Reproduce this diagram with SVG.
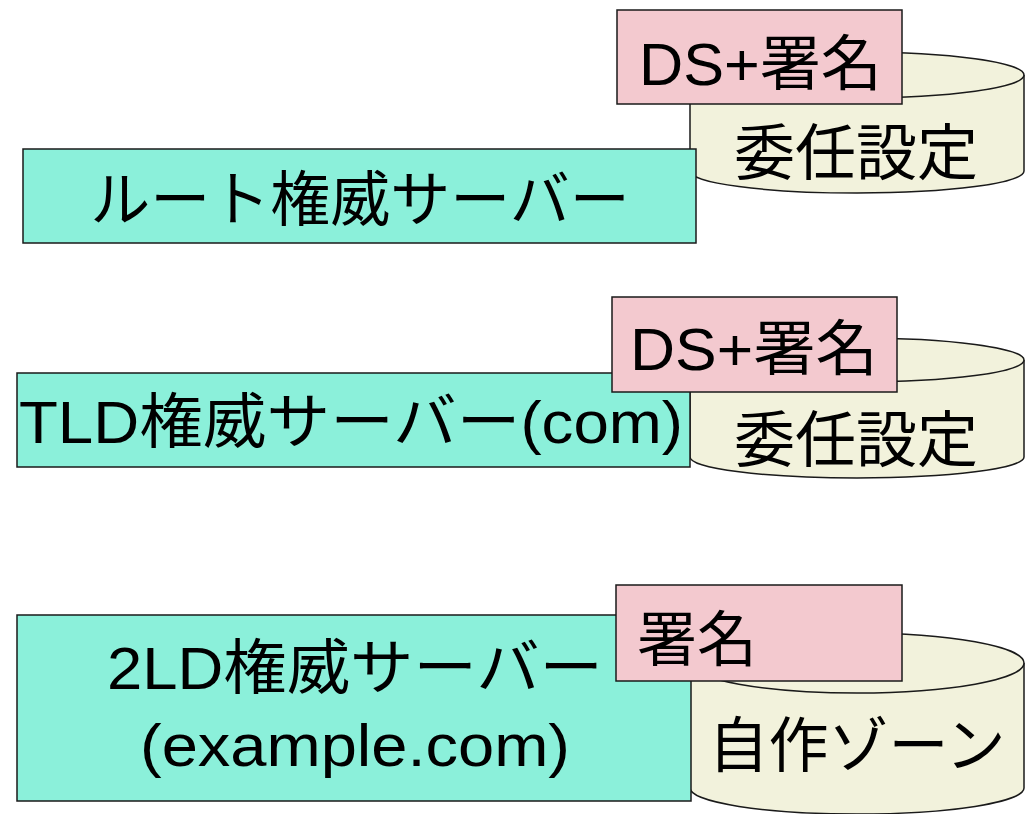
<svg xmlns="http://www.w3.org/2000/svg" width="1035" height="814" viewBox="0 0 1035 814">
<style>
.teal{fill:#8BF0DA;stroke:#1a1a1a;stroke-width:1.5}
.pink{fill:#F3C9CF;stroke:#1a1a1a;stroke-width:1.5}
.cyl{fill:#F2F2DC;stroke:#1a1a1a;stroke-width:1.5}
text{font-family:"Noto Sans CJK JP","Noto Sans",sans-serif;font-size:60px;fill:#000}
.lat{font-family:"Liberation Sans","Noto Sans CJK JP",sans-serif}
.c{text-anchor:middle}
.z{font-size:61px}
</style>
<rect width="1035" height="814" fill="#fff"/>
<g id="root-zone">
<path class="cyl" d="M690,75 L690,171 A167,22 0 0 0 1024,171 L1024,75 A167,23 0 0 0 690,75 Z"/>
<path class="cyl" d="M690,75 A167,23 0 0 0 1024,75" fill="none"/>
<text class="c z" x="856" y="175">委任設定</text>
</g>
<g id="root-server">
<rect class="teal" x="23" y="149" width="673" height="94"/>
<text class="c" x="360" y="221">ルート権威サーバー</text>
</g>
<g id="root-sig">
<rect class="pink" x="617" y="10" width="285" height="94"/>
<text class="lat" x="639" y="85" textLength="243" lengthAdjust="spacingAndGlyphs">DS+署名</text>
</g>
<g id="tld-zone">
<path class="cyl" d="M690,360 L690,457 A167,21 0 0 0 1024,457 L1024,360 A167,22 0 0 0 690,360 Z"/>
<path class="cyl" d="M690,360 A167,22 0 0 0 1024,360" fill="none"/>
<text class="c z" x="856" y="462">委任設定</text>
</g>
<g id="tld-server">
<rect class="teal" x="17" y="373" width="673" height="94"/>
<text class="c lat" x="351" y="443" textLength="664" lengthAdjust="spacingAndGlyphs">TLD権威サーバー(com)</text>
</g>
<g id="tld-sig">
<rect class="pink" x="612" y="297" width="285" height="95"/>
<text class="lat" x="630" y="370" textLength="248" lengthAdjust="spacingAndGlyphs">DS+署名</text>
</g>
<g id="sld-zone">
<path class="cyl" d="M690,663 L690,788 A167,26 0 0 0 1024,788 L1024,663 A167,30 0 0 0 690,663 Z"/>
<path class="cyl" d="M690,663 A167,30 0 0 0 1024,663" fill="none"/>
<text class="c" x="857" y="767">自作ゾーン</text>
</g>
<g id="sld-server">
<rect class="teal" x="17" y="615" width="674" height="186"/>
<text class="c lat" x="355" y="689" textLength="496" lengthAdjust="spacingAndGlyphs">2LD権威サーバー</text>
<text class="c lat" x="355" y="766" textLength="430" lengthAdjust="spacingAndGlyphs">(example.com)</text>
</g>
<g id="sld-sig">
<rect class="pink" x="616" y="585" width="286" height="96"/>
<text x="637" y="661">署名</text>
</g>
<g id="connectors"></g>
</svg>
